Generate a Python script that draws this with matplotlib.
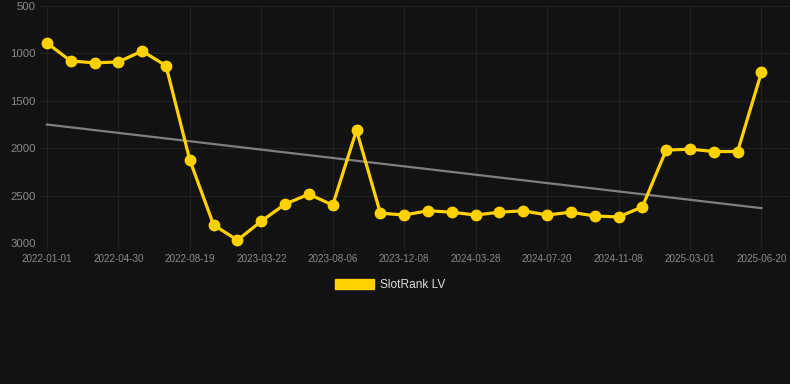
import matplotlib
matplotlib.use("Agg")
import matplotlib.pyplot as plt
from matplotlib.patches import Patch
import numpy as np

plt.rcParams['font.family'] = ['Liberation Sans', 'DejaVu Sans']

series_name = "SlotRank LV"
rank_values = [890, 1080, 1100, 1090, 975, 1130, 2125, 2810, 2970, 2770,
               2590, 2485, 2600, 1810, 2685, 2705, 2660, 2675, 2705, 2675,
               2660, 2705, 2675, 2715, 2725, 2620, 2020, 2010, 2035, 2035,
               1200]
tick_labels = ["2022-01-01", "2022-04-30", "2022-08-19", "2023-03-22",
               "2023-08-06", "2023-12-08", "2024-03-28", "2024-07-20",
               "2024-11-08", "2025-03-01", "2025-06-20"]
y_ticks = [500, 1000, 1500, 2000, 2500, 3000]

bg = "#121212"
grid_c = "#212121"
label_c = "#8a8a8a"
gold = "#FFD100"

x = np.arange(len(rank_values))
fig = plt.figure(figsize=(7.9, 3.84), dpi=100, facecolor=bg)
ax = fig.add_axes([40/790, 1-243/384, 1-40/790, (243-6)/384])
ax.set_facecolor(bg)

# trend line (linear fit)
coef = np.polyfit(x, rank_values, 1)
trend = np.polyval(coef, x)
ax.plot(x, trend, color="#8c8c8c", lw=1.6, alpha=0.9, zorder=2)

ax.plot(x, rank_values, color=gold, lw=2.3, marker="o", markersize=7.5,
        markerfacecolor=gold, markeredgecolor=gold, zorder=3, clip_on=False)

ax.set_ylim(3000, 500)
ax.set_yticks(y_ticks)
ax.set_xlim(-0.29, 31.2)
ax.set_xticks(x[::3])
ax.set_xticklabels(tick_labels)
ax.grid(True, color=grid_c, lw=0.8)
ax.set_axisbelow(True)
for s in ax.spines.values():
    s.set_visible(False)
ax.tick_params(axis='y', length=0, labelsize=8.2, labelcolor=label_c, pad=3)
ax.tick_params(axis='x', length=5, color=grid_c, labelsize=7.1, labelcolor=label_c, pad=3)

handle = Patch(facecolor=gold, edgecolor=gold)
fig.legend([handle], [series_name], loc="center",
           bbox_to_anchor=(0.5 - 5/790, 1-285/384),
           frameon=False, fontsize=8.6, labelcolor="#dddddd",
           handlelength=3.3, handleheight=1.0, handletextpad=0.5)

fig.savefig("out.png", dpi=100, facecolor=bg)
